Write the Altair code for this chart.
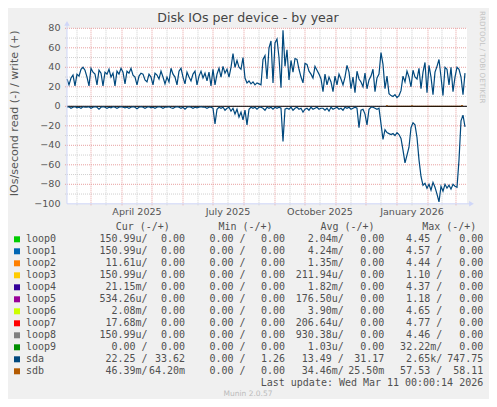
import altair as alt
import pandas as pd

# ---------------- data ----------------
start = "2025-02-05"
step_days = 2

sda_write = [
    28, 22, 29, 32, 21, 33, 31, 38, 40, 37,
    30, 21, 39, 35, 33, 22, 37, 34, 21, 35,
    33, 38, 30, 34, 21, 36, 33, 39, 35, 23,
    36, 34, 39, 32, 30, 22, 31, 34, 33, 27,
    25, 33, 30, 22, 34, 32, 28, 36, 30, 23,
    30, 25, 39, 33, 30, 22, 36, 39, 30, 23,
    35, 30, 26, 33, 36, 22, 31, 36, 29, 34,
    26, 35, 21, 38, 22, 33, 39, 30, 41, 34,
    38, 30, 40, 54, 40, 47, 40, 38, 50, 29,
    24, 26, 23, 25, 22, 24, 23, 22, 48, 52,
    28, 60, 67, 24, 65, 69, 50, 19, 78, 41,
    58, 27, 47, 35, 49, 48, 38, 30, 24, 44,
    43, 36, 33, 29, 41, 37, 33, 28, 15, 33,
    22, 30, 25, 15, 31, 22, 33, 28, 22, 30,
    42, 35, 18, 30, 14, 36, 28, 25, 20, 34,
    18, 27, 31, 38, 15, 29, 33, 55, 43, 18,
    31, 13, 11, 10, 12, 9, 11, 16, 31, 25,
    36, 30, 20, 37, 30, 28, 39, 18, 35, 45,
    14, 42, 30, 12, 35, 41, 48, 30, 11, 40,
    38, 22, 40, 15, 30, 40, 38, 30, 12, 34,
]

sda_read = [
    -1, -0.5, -2, -1, -0.5, -1.5, -1, -2, -0.5, -1,
    -1, -0.5, -2, -1, -0.5, -1, -3, -1, -0.5, -1,
    -2, -1, -1.5, -0.5, -1, -2, -1, -0.5, -1, -1.5,
    -1, -2, -1, -0.5, -1, -2.5, -1, -0.5, -1, -2,
    -1, -0.5, -1.5, -1, -2, -1, -0.5, -1, -2, -1,
    -1, -0.5, -1.5, -2, -1, -0.5, -1, -2, -1, -3,
    -1, -0.5, -1, -2, -1, -1.5, -1, -0.5, -1, -1,
    -2, -1, -1, -2, -18, -3, -1, -2, -1, -4,
    -2, -1, -5, -2, -8, -3, -11, -6, -14, -4,
    -19, -3, -1, -2, -1, -3, -1, -1, -2, -4,
    -1, -2, -1, -3, -1, -2, -1, -2, -36, -3,
    -2, -3, -1, -4, -2, -1, -3, -2, -6, -3,
    -2, -4, -1, -3, -2, -1, -3, -2, -2, -4,
    -2, -5, -1, -3, -2, -1, -3, -2, -4, -1,
    -2, -1, -3, -2, -1, -2, -22, -4, -3, -8,
    -19, -3, -1, -1, -2, -3, -2, -18, -34, -24,
    -27, -28, -29, -28, -30, -27, -29, -33, -45, -58,
    -50, -42, -22, -17, -19, -32, -55, -72, -81, -79,
    -84, -80, -86, -78, -83, -90, -98, -82, -87, -80,
    -84, -81, -85, -80, -82, -83, -55, -15, -9, -21,
]

sdb_dates = ["2025-12-21", "2025-12-22", "2025-12-23",
             "2026-01-15", "2026-01-16", "2026-01-17",
             "2026-03-06", "2026-03-07", "2026-03-08"]
sdb_write = [0, 1.2, 0, 0, 1.0, 0, 0, 1.3, 0]

month_starts = ["2025-03-01", "2025-04-01", "2025-05-01", "2025-06-01",
                "2025-07-01", "2025-08-01", "2025-09-01", "2025-10-01",
                "2025-11-01", "2025-12-01", "2026-01-01", "2026-02-01",
                "2026-03-01"]
month_mids = ["2025-02-15", "2025-03-16", "2025-04-16", "2025-05-16",
              "2025-06-16", "2025-07-16", "2025-08-16", "2025-09-16",
              "2025-10-16", "2025-11-16", "2025-12-16", "2026-01-16",
              "2026-02-15"]
x_label_dates = ["2025-04-16", "2025-07-16", "2025-10-16", "2026-01-16"]
x_labels = ["April 2025", "July 2025", "October 2025", "January 2026"]

y_major = [-80, -60, -40, -20, 0, 20, 40, 60, 80]
y_minor = [-90, -70, -50, -30, -10, 10, 30, 50, 70]
y_ticks = [-100, -80, -60, -40, -20, 0, 20, 40, 60, 80]

names = ["loop0", "loop1", "loop2", "loop3", "loop4", "loop5",
         "loop6", "loop7", "loop8", "loop9", "sda", "sdb"]
colors = ["#00CC00", "#0066B3", "#FF8000", "#FFCC00", "#330099", "#990099",
          "#CCFF00", "#FF0000", "#808080", "#008F00", "#00487D", "#B35A00"]
cur_r = ["150.99u", "150.99u", "11.61u", "150.99u", "21.15m", "534.26u",
         "2.08m", "17.68m", "150.99u", "0.00", "22.25", "46.39m"]
cur_w = ["0.00", "0.00", "0.00", "0.00", "0.00", "0.00",
         "0.00", "0.00", "0.00", "0.00", "33.62", "64.20m"]
min_r = ["0.00", "0.00", "0.00", "0.00", "0.00", "0.00",
         "0.00", "0.00", "0.00", "0.00", "0.00", "0.00"]
min_w = ["0.00", "0.00", "0.00", "0.00", "0.00", "0.00",
         "0.00", "0.00", "0.00", "0.00", "1.26", "0.00"]
avg_r = ["2.04m", "4.24m", "1.35m", "211.94u", "1.82m", "176.50u",
         "3.90m", "206.64u", "930.38u", "1.03u", "13.49", "34.46m"]
avg_w = ["0.00", "0.00", "0.00", "0.00", "0.00", "0.00",
         "0.00", "0.00", "0.00", "0.00", "31.17", "25.50m"]
max_r = ["4.45", "4.57", "4.44", "1.10", "4.37", "1.18",
         "4.65", "4.77", "4.46", "32.22m", "2.65k", "57.53"]
max_w = ["0.00", "0.00", "0.00", "0.00", "0.00", "0.00",
         "0.00", "0.00", "0.00", "0.00", "747.75", "58.11"]

title_text = "Disk IOs per device - by year"
ytitle_text = "IOs/second read (-) / write (+)"
side_text = "RRDTOOL / TOBI OETIKER"
update_text = "Last update: Wed Mar 11 00:00:14 2026"
version_text = "Munin 2.0.57"
headers = ["Cur (-/+)", "Min (-/+)", "Avg (-/+)", "Max (-/+)"]

# ---------------- layout constants ----------------
W, H = 400, 175.5
NB = "\u00a0"
MONO = "DejaVu Sans Mono"
SANS = "DejaVu Sans"
TXT = "#505050"
AXC = "#CFD6F8"
MAJ = "#E8A0A0"
MIN = "#CFCFCF"

dates = pd.date_range(start, periods=len(sda_write), freq=f"{step_days}D")
df_w = pd.DataFrame({"date": dates, "v": sda_write})
df_r = pd.DataFrame({"date": dates, "v": sda_read})
df_sdb = pd.DataFrame({"date": pd.to_datetime(sdb_dates), "v": sdb_write})

xs = alt.Scale(domain=[alt.DateTime(year=2025, month=2, date=5),
                       alt.DateTime(year=2026, month=3, date=12)])
ys = alt.Scale(domain=[-100, 80], nice=False, zero=False)

X = lambda: alt.X("date:T", scale=xs, axis=None)
Y = lambda: alt.Y("v:Q", scale=ys, axis=None)
one = pd.DataFrame({"k": [0]})

layers = []

# grid
layers.append(alt.Chart(pd.DataFrame({"date": pd.to_datetime(month_mids)}))
              .mark_rule(color=MIN, strokeDash=[1, 1], strokeWidth=1)
              .encode(x=X(), y=alt.value(0), y2=alt.value(H + 2)))
layers.append(alt.Chart(pd.DataFrame({"v": y_minor}))
              .mark_rule(color=MIN, strokeDash=[1, 1], strokeWidth=1)
              .encode(y=Y(), x=alt.value(-2), x2=alt.value(W)))
layers.append(alt.Chart(pd.DataFrame({"date": pd.to_datetime(month_starts)}))
              .mark_rule(color=MAJ, strokeDash=[1, 1], strokeWidth=1)
              .encode(x=X(), y=alt.value(0), y2=alt.value(H + 2)))
layers.append(alt.Chart(pd.DataFrame({"v": y_major}))
              .mark_rule(color=MAJ, strokeDash=[1, 1], strokeWidth=1)
              .encode(y=Y(), x=alt.value(-2), x2=alt.value(W)))

# series
layers.append(alt.Chart(df_sdb).mark_line(color="#B35A00", strokeWidth=1)
              .encode(x=X(), y=Y()))
layers.append(alt.Chart(pd.DataFrame({"v": [0]}))
              .mark_rule(color="#000000", strokeWidth=1)
              .encode(y=Y(), x=alt.value(0), x2=alt.value(W)))
layers.append(alt.Chart(df_w).mark_line(color="#00487D", strokeWidth=1.2)
              .encode(x=X(), y=Y()))
layers.append(alt.Chart(df_r).mark_line(color="#00487D", strokeWidth=1.2)
              .encode(x=X(), y=Y()))

# axes
layers.append(alt.Chart(one).mark_rule(color=AXC, strokeWidth=1)
              .encode(x=alt.value(0), y=alt.value(-4), y2=alt.value(H)))
layers.append(alt.Chart(one).mark_rule(color=AXC, strokeWidth=1)
              .encode(y=alt.value(H), x=alt.value(0), x2=alt.value(W + 3)))
layers.append(alt.Chart(one).mark_point(shape="triangle-up", filled=True, size=30,
                                        color=AXC, opacity=1)
              .encode(x=alt.value(0), y=alt.value(-5)))
layers.append(alt.Chart(one).mark_point(shape="triangle-right", filled=True, size=30,
                                        color=AXC, opacity=1)
              .encode(x=alt.value(W + 4.5), y=alt.value(H)))

# tick labels
layers.append(alt.Chart(pd.DataFrame({"v": y_ticks}))
              .mark_text(align="right", baseline="middle", font=SANS, fontSize=9.6,
                         color="#555555")
              .encode(y=Y(), x=alt.value(-6.5), text=alt.Text("v:Q", format="d")))
layers.append(alt.Chart(pd.DataFrame({"date": pd.to_datetime(x_label_dates),
                                      "t": x_labels}))
              .mark_text(align="center", baseline="middle", font=SANS, fontSize=9.6,
                         color="#555555")
              .encode(x=X(), y=alt.value(H + 8.7), text="t:N"))

# titles
def const_text(text, x, y, **kw):
    return (alt.Chart(pd.DataFrame({"t": [text]}))
            .mark_text(**kw)
            .encode(x=alt.value(x), y=alt.value(y), text="t:N"))

layers.append(const_text(title_text, 181, -6.3, align="center", baseline="alphabetic",
                         font=SANS, fontSize=12.6, color="#444444"))
layers.append(const_text(ytitle_text, -52.5, 85, align="center", baseline="middle",
                         angle=270, font=SANS, fontSize=11.1, color="#555555"))
layers.append(const_text(side_text, 415.5, 29.0, align="center", baseline="middle",
                         angle=90, font=SANS, fontSize=7.2, color="#C4C4C4"))

# legend
def rpart(v):
    return (v if v[-1].isalpha() else v + NB) + "/"

def wpart(v):
    return v if v[-1].isalpha() else v + NB

leg = pd.DataFrame({
    "row": list(range(len(names))),
    "name": names, "color": colors,
    "cr": [rpart(v) for v in cur_r], "cw": [wpart(v) for v in cur_w],
    "mr": [rpart(v) for v in min_r], "mw": [wpart(v) for v in min_w],
    "ar": [rpart(v) for v in avg_r], "aw": [wpart(v) for v in avg_w],
    "xr": [rpart(v) for v in max_r], "xw": [wpart(v) for v in max_w],
})
base = alt.Chart(leg).transform_calculate(py="211.0 + 12 * datum.row")
PY = alt.Y("py:Q", scale=None, axis=None)

layers.append(base.mark_square(size=36, opacity=1)
              .encode(x=alt.value(-50), y=PY,
                      color=alt.Color("color:N", scale=None, legend=None)))
layers.append(base.mark_text(align="left", baseline="middle", font=MONO, fontSize=10,
                             color=TXT)
              .encode(x=alt.value(-41), y=PY, text="name:N"))
for col, xpos in [("cr", 80.5), ("cw", 118), ("mr", 178.5), ("mw", 218),
                  ("ar", 276.8), ("aw", 317.3), ("xr", 375.2), ("xw", 416.3)]:
    layers.append(base.mark_text(align="right", baseline="middle", font=MONO,
                                 fontSize=10, color=TXT)
                  .encode(x=alt.value(xpos), y=PY, text=f"{col}:N"))

for h, cx in zip(headers, [75.7, 178.5, 280.5, 382.3]):
    layers.append(const_text(h, cx, 198.7, align="center", baseline="middle",
                             font=MONO, fontSize=10, color=TXT))
layers.append(const_text(update_text, 416.2, 355.0, align="right", baseline="middle",
                         font=MONO, fontSize=10, color=TXT))
layers.append(const_text(version_text, 181, 366.2, align="center", baseline="middle",
                         font=SANS, fontSize=7.5, color="#BBBBBB"))

chart = (alt.layer(*layers)
         .properties(width=W, height=H,
                     autosize=alt.AutoSizeParams(type="none"),
                     padding={"left": 59, "top": 20.3, "right": 22, "bottom": 195},
                     background="#F0F0F0")
         .configure_view(fill="white", stroke=None))

chart.save("out.html", embed_options={"renderer": "svg", "actions": False})
